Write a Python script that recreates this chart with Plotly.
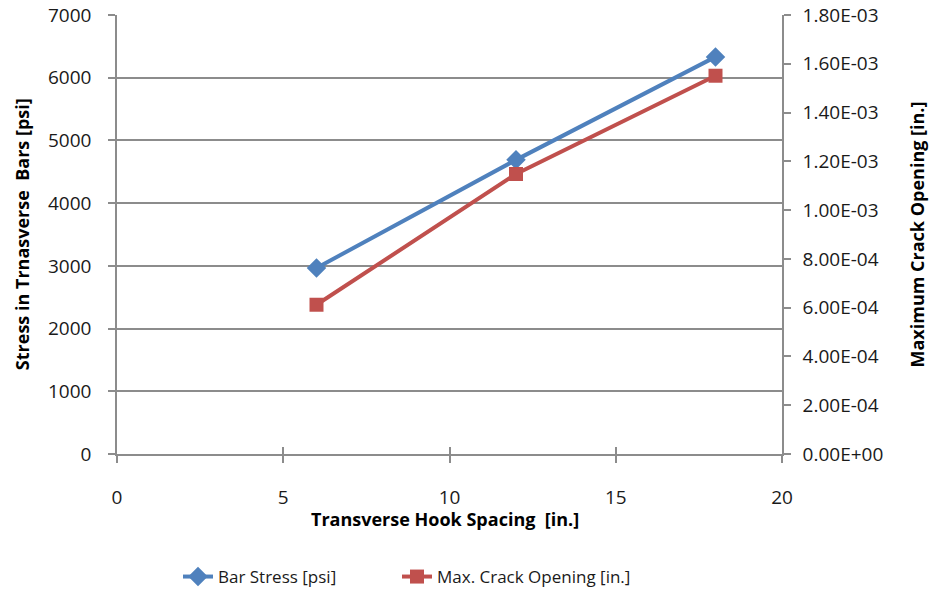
import plotly.graph_objects as go

# Transverse hook spacing [in.]
spacing = [6, 12, 18]
# Stress in transverse bars [psi]
bar_stress = [2966, 4690, 6332]
# Maximum crack opening [in.]
crack_opening = [6.12e-4, 1.148e-3, 1.551e-3]

x_ticks = [0, 5, 10, 15, 20]
left_ticks = [0, 1000, 2000, 3000, 4000, 5000, 6000, 7000]
right_ticks = [0, 2e-4, 4e-4, 6e-4, 8e-4, 1e-3, 1.2e-3, 1.4e-3, 1.6e-3, 1.8e-3]
right_tick_text = ["0.00E+00", "2.00E-04", "4.00E-04", "6.00E-04", "8.00E-04",
                   "1.00E-03", "1.20E-03", "1.40E-03", "1.60E-03", "1.80E-03"]

BLUE = "#4F81BD"
RED = "#C0504D"
GRID = "#8c8c8c"
FONT = "Open Sans"
TXT = "#1a1a1a"

legend_font = dict(family=FONT, size=17, color=TXT)

fig = go.Figure()
fig.add_trace(go.Scatter(
    x=spacing, y=bar_stress, name="Bar Stress [psi]",
    mode="lines+markers",
    line=dict(color=BLUE, width=4),
    marker=dict(symbol="diamond", size=15, color=BLUE),
    xaxis="x", yaxis="y", legend="legend",
))
fig.add_trace(go.Scatter(
    x=spacing, y=crack_opening, name="Max. Crack Opening [in.]",
    mode="lines+markers",
    line=dict(color=RED, width=4),
    marker=dict(symbol="square", size=14, color=RED),
    xaxis="x", yaxis="y2", legend="legend2",
))

tick_font = dict(family=FONT, size=19, color=TXT)

fig.update_layout(
    width=929, height=591,
    margin=dict(l=117, r=147, t=15, b=137, autoexpand=False),
    paper_bgcolor="white", plot_bgcolor="white",
    showlegend=True,
    legend=dict(
        xref="container", yref="container",
        x=178 / 929, y=1 - 577 / 591,
        xanchor="left", yanchor="middle",
        font=legend_font, itemwidth=30,
    ),
    legend2=dict(
        xref="container", yref="container",
        x=397 / 929, y=1 - 577 / 591,
        xanchor="left", yanchor="middle",
        font=legend_font, itemwidth=30,
    ),
    xaxis=dict(
        range=[0, 20], tickvals=x_ticks,
        showgrid=False, zeroline=False,
        showline=True, linecolor=GRID, linewidth=1.5,
        ticks="outside", ticklen=7, tickcolor=GRID, tickwidth=1.5,
        tickfont=tick_font, ticklabelstandoff=18,
    ),
    xaxis2=dict(
        range=[0, 20], tickvals=x_ticks, overlaying="x", matches="x",
        showgrid=False, zeroline=False, showline=False,
        ticks="inside", ticklen=7, tickcolor=GRID, tickwidth=1.5,
        showticklabels=False,
    ),
    yaxis=dict(
        range=[0, 7000], tickvals=left_ticks,
        showgrid=True, gridcolor=GRID, gridwidth=1.5,
        zeroline=False,
        showline=True, linecolor=GRID, linewidth=1.5,
        ticks="outside", ticklen=7, tickcolor=GRID, tickwidth=1.5,
        tickfont=tick_font, ticklabelstandoff=13,
    ),
    yaxis2=dict(
        range=[0, 1.8e-3], tickvals=right_ticks, ticktext=right_tick_text,
        overlaying="y", side="right",
        showgrid=False, zeroline=False,
        showline=True, linecolor=GRID, linewidth=1.5,
        ticks="outside", ticklen=7, tickcolor=GRID, tickwidth=1.5,
        tickfont=tick_font, ticklabelstandoff=8,
    ),
)

# invisible trace to anchor the crossing tick marks on the x axis
fig.add_trace(go.Scatter(x=[0], y=[0], xaxis="x2", yaxis="y",
                         mode="markers", marker=dict(opacity=0),
                         showlegend=False, hoverinfo="skip"))

title_font = dict(family=FONT, size=18, color="black")
fig.add_annotation(
    text="<b>Transverse Hook Spacing  [in.]</b>",
    xref="paper", yref="paper", x=0.493, y=-0.147,
    xanchor="center", yanchor="middle", showarrow=False, font=title_font,
)
fig.add_annotation(
    text="<b>Stress in Trnasverse  Bars [psi]</b>",
    xref="paper", yref="paper", x=-0.1434, y=0.50,
    xanchor="center", yanchor="middle", textangle=-90,
    showarrow=False, font=title_font,
)
fig.add_annotation(
    text="<b>Maximum Crack Opening [in.]</b>",
    xref="paper", yref="paper", x=1.203, y=0.50,
    xanchor="center", yanchor="middle", textangle=-90,
    showarrow=False, font=title_font,
)

fig.write_html("out.html")
